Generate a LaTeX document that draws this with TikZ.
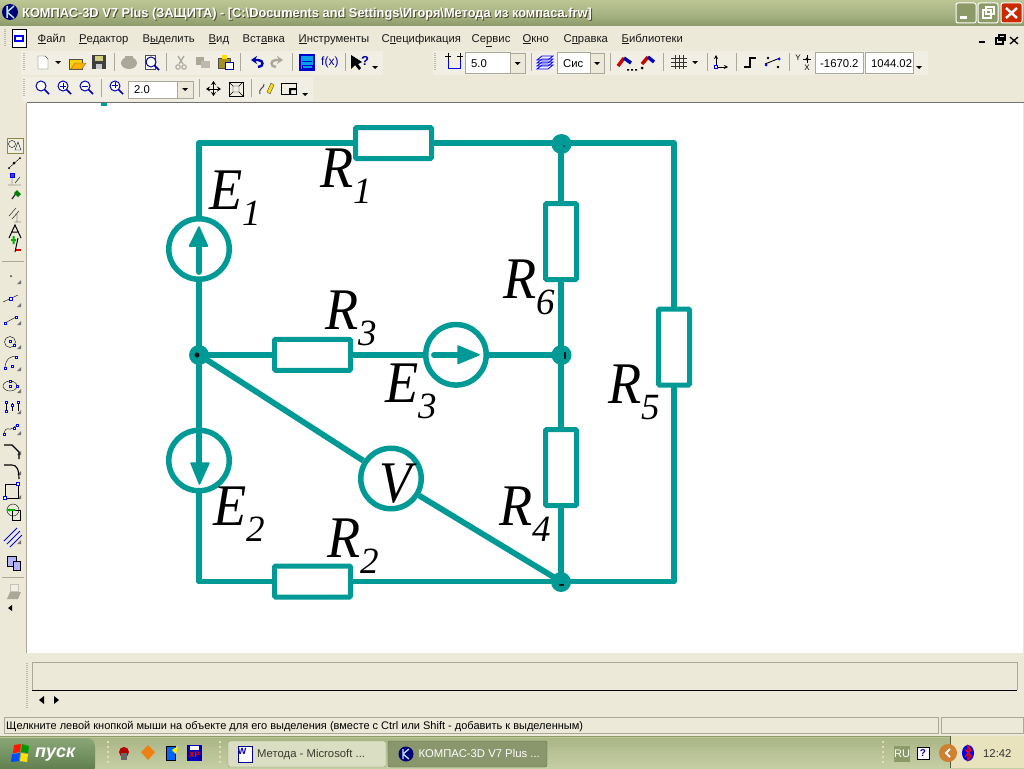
\documentclass[tikz,border=0pt]{standalone}
\usepackage{fontspec}
\setmainfont{Liberation Sans}
\newfontfamily\circfont{Liberation Serif}
\usetikzlibrary{arrows.meta}
\definecolor{teal1}{HTML}{009A96}
\definecolor{uibg}{HTML}{ECE9D8}
\definecolor{band}{HTML}{F1EFE4}
\definecolor{sepc}{HTML}{ACA899}
\definecolor{txt}{HTML}{1A1A1A}
\definecolor{ttop}{HTML}{BCC594}
\definecolor{tmid}{HTML}{A9B585}
\definecolor{tbot}{HTML}{8C9A68}
\definecolor{traybg}{HTML}{E9E3BD}
\definecolor{stop}{HTML}{8AA678}
\definecolor{smid}{HTML}{6F8F5C}
\definecolor{sbot}{HTML}{587846}
\newcommand\uu[1]{\underline{#1}}
\newcommand\circlabel[5]{\node[circlbl] (#1) at (#2,#3) {\makebox[33pt][l]{\scalebox{.92}[1]{#4}}\raisebox{-16pt}{\fontsize{37}{37}\selectfont #5}};}
\newcommand\vsepx[2]{\draw[sepc,line width=1pt] (#1,#2-9) -- (#1,#2+9);}
\newcommand\gripx[2]{\draw[sepc!80,line width=1.5pt,dash pattern=on 1pt off 1pt] (#1,#2-9) -- (#1,#2+9);}
\newcommand\dnarrow[2]{\fill[black] (#1-3,#2-1) -- (#1+3,#2-1) -- (#1,#2+2) -- cycle;}
\newcommand\magicon[3]{\begin{scope}[shift={(#1,#2)}]
 \draw[#3,line width=1.6pt] (2,2) -- (7,7);
 \draw[#3,line width=1pt,fill=white] (-1,-1) circle (5);
 \end{scope}}
\tikzset{
 x=1pt,y=-1pt,
 wire/.style={teal1,line width=5.8pt,line join=round,line cap=round},
 resistor/.style={draw=teal1,line width=5pt,rounded corners=1.2pt,fill=white,rectangle,inner sep=0pt},
 hres/.style={resistor,minimum width=76pt,minimum height=31pt},
 vres/.style={resistor,minimum width=31pt,minimum height=76pt},
 source/.style={draw=teal1,line width=5.5pt,circle,inner sep=0pt,minimum size=60.5pt},
 junction/.style={circle,fill=teal1,inner sep=0pt,minimum size=20pt},
 core/.style={fill=black!85!teal1,inner sep=0pt},
 circlbl/.style={anchor=base west,inner sep=0pt,font={\circfont\itshape\fontsize{59}{59}\selectfont},text=black},
 menu/.style={anchor=base west,inner sep=0pt,text=txt,font=\fontsize{11.3}{12}\selectfont},
 small/.style={anchor=west,inner sep=0pt,text=black,font=\fontsize{11.3}{12}\selectfont},
 field/.style={draw=sepc,fill=white,line width=1pt},
 head/.style={fill=teal1,draw=teal1,line width=1.5pt,line join=round},
}
\begin{document}
\begin{tikzpicture}
\useasboundingbox (0,0) rectangle (1024,768);
\fill[uibg] (0,0) rectangle (1024,768);
% title bar
\shade[top color=ttop,bottom color=tbot,middle color=tmid] (0,0) rectangle (1024,26);
\fill[blue!45!black] (10,12) circle (8); \draw[white!70!cyan,line width=1.5pt] (7,6) -- (7,18) (7,12) -- (14,6) (7,12) -- (14,18);
\node[anchor=west,inner sep=0pt,text=black!60!olive] (titleshadow) at (23,15) {\scalebox{.986}[1]{\bfseries\fontsize{13}{14}\selectfont КОМПАС-3D V7 Plus (ЗАЩИТА) - [C:\textbackslash Documents and Settings\textbackslash Игоря\textbackslash Метода из компаса.frw]}};
\node[anchor=west,inner sep=0pt,text=white] (title) at (22,14) {\scalebox{.986}[1]{\bfseries\fontsize{13}{14}\selectfont КОМПАС-3D V7 Plus (ЗАЩИТА) - [C:\textbackslash Documents and Settings\textbackslash Игоря\textbackslash Метода из компаса.frw]}};
% window buttons
\foreach \a/\c in {956/tbot,978/tbot}{
 \fill[\c,draw=white,line width=1pt,rounded corners=2pt] (\a,3) rectangle +(20,20);}
\fill[red!60!orange!80!black,draw=white,line width=1pt,rounded corners=2pt] (1001,3) rectangle +(21,20);
\fill[white] (960,16) rectangle (967,19);
\draw[white,line width=1.3pt] (983,10) rectangle (991,18); \draw[white,line width=1.3pt] (986,7) rectangle (994,14);
\draw[white,line width=2.4pt] (1006,8) -- (1017,18) (1017,8) -- (1006,18);
% menu
\gripx{5}{38}
\fill[white,draw=black] (12,29) rectangle (26,47); \draw[blue,line width=1.4pt] (15,36) rectangle (23,41);
\node[menu] (m1) at (37.5,42) {\uu{Ф}айл};
\node[menu] (m2) at (79,42) {\uu{Р}едактор};
\node[menu] (m3) at (142.5,42) {В\uu{ы}делить};
\node[menu] (m4) at (208.5,42) {\uu{В}ид};
\node[menu] (m5) at (242.5,42) {Вст\uu{а}вка};
\node[menu] (m6) at (298.5,42) {\uu{И}нструменты};
\node[menu] (m7) at (381.5,42) {С\uu{п}ецификация};
\node[menu] (m8) at (471.5,42) {Се\uu{р}вис};
\node[menu] (m9) at (522.5,42) {\uu{О}кно};
\node[menu] (m10) at (563.5,42) {С\uu{п}равка};
\node[menu] (m11) at (621.5,42) {\uu{Б}иблиотеки};
\fill[black] (979,41) rectangle (985,43);
\draw[black,line width=1.2pt] (996,38) rectangle (1003,44); \draw[black,line width=1.2pt] (999,35) rectangle (1005,40);
\draw[black,line width=1.3pt] (1010,37) -- (1018,44) (1018,37) -- (1010,44);
% toolbar bands
\fill[band] (21,51) rectangle (383,75);
\fill[band] (433,51) rectangle (928,75);
\fill[band] (22,77) rectangle (313,101);
\gripx{24}{62} \gripx{435}{62} \gripx{24}{88}
% row 2 left
\fill[white,draw=black!70] (38,56) -- (45,56) -- (48,59) -- (48,69) -- (38,69) -- cycle;
\dnarrow{58}{62}
\fill[yellow!70!orange,draw=black!70] (69,59) rectangle (82,69); \fill[orange!60!yellow,draw=black!60] (71,69) -- (75,63) -- (86,63) -- (82,69) -- cycle;
\fill[black!75] (92,55) rectangle (106,69); \fill[olive!40!white] (95,56) rectangle (103,61); \fill[white!80!black] (96,64) rectangle (102,69);
\vsepx{114}{62}
\fill[sepc] (129,63) ellipse (8 and 6); \fill[sepc] (125,56) rectangle (133,60);
\fill[white,draw=black!70] (145,55) rectangle (155,69); \magicon{152}{63}{blue!60!black}
\vsepx{166}{62}
\draw[sepc,line width=1.3pt] (178,56) -- (183,64) (184,56) -- (179,64); \draw[sepc,line width=1.1pt] (178,67) circle (2.2) (184,67) circle (2.2);
\fill[sepc] (196,57) rectangle (204,65); \fill[sepc!80] (201,61) rectangle (210,68);
\fill[olive!60!brown,draw=black!70] (218,58) rectangle (230,68); \fill[white,draw=blue!60!black] (225,62) rectangle (233,69); \fill[yellow!80!orange] (222,55) rectangle (227,59);
\vsepx{240}{62}
\draw[blue!70!black,line width=2.4pt,{Stealth[length=6pt,width=8pt]}-] (251,60) -- (258,60) .. controls (264,60) and (264,67) .. (258,67);
\draw[sepc,line width=2.4pt,{Stealth[length=6pt,width=8pt]}-] (283,60) -- (276,60) .. controls (270,60) and (270,67) .. (276,67);
\vsepx{292}{62}
\fill[cyan!90!blue,draw=blue!80!black,line width=1.3pt] (300,55) rectangle (314,70); \draw[blue!80!black] (302,61) -- (312,61) (302,65) rectangle (312,68);
\node[small,text=blue!60!black,font=\fontsize{12}{12}\selectfont] (fx) at (321,62) {f(x)};
\vsepx{345}{62}
\fill[black] (351,55) -- (351,69) -- (355,65) -- (359,70) -- (361,68) -- (358,64) -- (362,62) -- cycle;
\node[small,text=blue!70!black,font=\bfseries\fontsize{13}{13}\selectfont] (hlp) at (361,61) {?};
\dnarrow{375}{67}
% row 2 right
\draw[blue,line width=1pt] (448,60) -- (448,68) -- (460,68) -- (460,60); \draw[black] (445,56) -- (451,56) (457,56) -- (463,56) (448,53) -- (448,60) (460,53) -- (460,60);
\draw[field] (465,53) rectangle (510,73); \node[small] (step) at (471,63.5) {5.0};
\fill[uibg,draw=sepc] (510,53) rectangle (525,73); \dnarrow{517.5}{63}
\vsepx{531}{62}
\foreach \y in {60,63,66,69}{\draw[blue,line width=.8pt] (537,\y) -- (548,\y) -- (553,\y-4) -- (542,\y-4) -- cycle;}
\draw[field] (557,53) rectangle (590,73); \node[small] (layer) at (563,63.5) {Сис};
\fill[uibg,draw=sepc] (590,53) rectangle (604,73); \dnarrow{597}{63}
\vsepx{610}{62}
\draw[red!80!black,line width=3.4pt] (618,66) -- (624,58); \draw[blue!70!black,line width=3.4pt] (624,58) -- (631,63);
\fill[black] (627,69) rectangle +(2,1.5) (631,69) rectangle +(2,1.5) (635,69) rectangle +(2,1.5);
\draw[red!80!black,line width=3.4pt] (642,64) -- (648,57); \draw[blue!70!black,line width=3.4pt] (648,57) -- (654,62);
\fill[black] (642,68) circle (1.5);
\vsepx{663}{62}
\draw[black!80,line width=.8pt] (671,58) -- (687,58) (671,62) -- (687,62) (671,66) -- (687,66) (675,55) -- (675,69) (679,55) -- (679,69) (683,55) -- (683,69);
\dnarrow{695}{62}
\vsepx{707}{62}
\draw[black,line width=.9pt,-{Stealth[length=4pt,width=4pt]}] (716,67) -- (716,55);
\draw[black,line width=.9pt,-{Stealth[length=4pt,width=4pt]}] (716,67) -- (728,67);
\draw[blue,fill=white] (714.5,65.5) rectangle +(3,3);
\vsepx{736}{62}
\draw[black,line width=1.1pt] (744,67) -- (750,67) -- (750,58) -- (756,58);
\draw[black,line width=.9pt] (765,64) -- (780,58); \fill[blue] (766,65) circle (1.5) (779,59) circle (1.5);
\fill[black] (768,58) circle (1.4) (778,67) circle (1.4);
\vsepx{789}{62}
\node[anchor=center,inner sep=0pt,font=\fontsize{8}{8}\selectfont] (yy) at (798,58) {Y};
\node[anchor=center,inner sep=0pt,font=\fontsize{8}{8}\selectfont] (xx) at (807,68) {X};
\fill[black] (807,59) circle (1.6); \draw[black] (803,59) -- (811,59) (807,55) -- (807,63);
\draw[field] (815,53) rectangle (863,73); \node[small] (cx) at (820,63.5) {-1670.2};
\draw[field] (865,53) rectangle (913,73);
\begin{scope} \clip (866,54) rectangle (912,72); \node[small] (cy) at (871,63.5) {1044.02}; \end{scope}
\dnarrow{919}{67}
% row 3
\magicon{42}{87}{blue!70!black}
\magicon{64}{87}{blue!70!black} \draw[blue!70!black] (60,86) -- (66,86) (63,83) -- (63,89);
\magicon{86}{87}{blue!70!black} \draw[blue!70!black] (82,86) -- (88,86);
\vsepx{101}{88}
\magicon{116}{87}{blue!70!black} \draw[blue!70!black] (112,85) -- (118,85) (115,82) -- (115,88);
\draw[field] (128,81) rectangle (177,98); \node[small] (zoomv) at (134,89.5) {2.0};
\fill[uibg,draw=sepc] (177,81) rectangle (193,98); \dnarrow{185}{89}
\vsepx{199}{88}
\draw[black,line width=1pt,{Stealth[length=4pt,width=5pt]}-{Stealth[length=4pt,width=5pt]}] (206,89) -- (221,89);
\draw[black,line width=1pt,{Stealth[length=4pt,width=5pt]}-{Stealth[length=4pt,width=5pt]}] (213.5,81) -- (213.5,96);
\draw[black,line width=1pt] (229,82) rectangle (243,96); \draw[black] (233,86) rectangle (239,92) (229,82) -- (233,86) (243,82) -- (239,86) (229,96) -- (233,92) (243,96) -- (239,92);
\vsepx{251}{88}
\draw[black!70,line width=1pt] (260,94) .. controls (258,88) and (265,88) .. (264,84);
\fill[yellow!80!orange,draw=black!70] (267,92) -- (271,83) -- (274,85) -- (270,94) -- cycle;
\draw[black,line width=1pt] (281,83) rectangle (296,94); \fill[black] (289,88) rectangle (296,90) (289,88) rectangle (291,94);
\dnarrow{305}{94}
% left toolbar
\draw[sepc,line width=1.2pt] (27,103) -- (27,653);
\fill[band,draw=olive!60!gray,line width=1pt] (7,138) rectangle (23,153);
\draw[black] (12,144) circle (3.5); \draw[black] (15,150) -- (18,142) -- (21,150) -- cycle;
\draw[black] (9,168) -- (20,158); \fill[black] (14,163) circle (1.5) (9,168) circle (1) (20,158) circle (1);
\fill[blue!50!gray,draw=blue] (10,173) rectangle (14,177); \draw[black] (12,177) -- (12,184) (8,185) -- (21,185) (15,183) -- (20,177);
\draw[black!80,line width=1.3pt] (12,199) -- (17,192); \fill[green!50!black] (17,190) -- (21,194) -- (18,197) -- (14,193) -- cycle;
\draw[black] (9,216) -- (16,208) (12,219) -- (19,211) (14,222) -- (21,222) (17,214) -- (17,222);
\draw[black,line width=1pt] (9,238) -- (15,225) -- (21,238) (11,232) -- (19,232);
\fill[green!70!black] (11,241) rectangle +(5,-2) (12.5,244) rectangle +(2,-8);
\draw[black,line width=1pt] (15,252) -- (18,238); \fill[red!85!black] (16,249) rectangle (21,251);
\draw[sepc] (2,261) -- (24,261);
\foreach \y in {277,300,318,342,364,386,407,428,448,468,492,537}{
 \fill[black!55] (21,\y+7) -- (21,\y+3) -- (17,\y+7) -- cycle;}
\fill[black!80] (11,276) circle (1);
\draw[black] (3,302) -- (18,295); \draw[blue,fill=white] (9.5,297.5) rectangle +(2.4,2.4);
\draw[black] (5,323) -- (16,317); \draw[blue,fill=white] (4,322) rectangle +(2.4,2.4) (15,316) rectangle +(2.4,2.4);
\draw[black] (10,342) circle (5.5); \draw[blue,fill=white] (9,340) rectangle +(2.4,2.4) (13,344) rectangle +(2.4,2.4);
\draw[black] (5,368) .. controls (5,358) and (13,355) .. (16,357); \draw[blue,fill=white] (4,367) rectangle +(2.4,2.4) (11,365) rectangle +(2.4,2.4) (15,356) rectangle +(2.4,2.4);
\draw[black] (10,386) ellipse (7 and 5); \draw[blue,fill=white] (9,385) rectangle +(2.4,2.4) (9,380) rectangle +(2.4,2.4) (16,385) rectangle +(2.4,2.4);
\draw[black] (6,411) -- (6,401) (12,403) -- (12,411) (18,401) -- (18,411);
\draw[blue,fill=white] (5,410) rectangle +(2.4,2.4) (5,401) rectangle +(2.4,2.4) (17,401) rectangle +(2.4,2.4) (11,404) rectangle +(2.4,2.4);
\draw[black] (4,434) .. controls (6,424) and (9,432) .. (13,428) .. controls (15,426) and (16,426) .. (17,425);
\draw[blue,fill=white] (3,433) rectangle +(2.4,2.4) (13,427) rectangle +(2.4,2.4) (16,424) rectangle +(2.4,2.4);
\draw[black,line width=1.1pt] (4,445) -- (12,445) -- (19,452) -- (19,459);
\draw[black,line width=1.1pt] (4,465) -- (12,465) .. controls (17,465) and (19,470) .. (19,479);
\draw[black,line width=1pt] (5,484) rectangle (18,498); \draw[blue,fill=white] (3.5,496.5) rectangle +(2.6,2.6) (16.5,482.5) rectangle +(2.6,2.6);
\draw[black] (13,510) circle (6); \draw[black] (12,510) rectangle (20,520); \draw[green!70!black,line width=1.5pt,-{Stealth[length=4pt]}] (15,510) -- (6,510);
\draw[blue,line width=.9pt] (4,541) -- (17,528) (7,544) -- (20,531) (10,547) -- (22,535);
\fill[blue!30!white,draw=black] (7,556) rectangle (16,566); \fill[blue!30!white,draw=black] (13,561) rectangle (20,570);
\draw[sepc] (2,577) -- (24,577);
\draw[sepc!70,fill=band] (10,584) rectangle (18,591); \fill[sepc] (7,599) -- (10,592) -- (21,592) -- (18,599) -- cycle;
\fill[black] (8,608) -- (12,605) -- (12,611) -- cycle;
% canvas
\fill[white] (27,103) rectangle (1023,653);
\draw[black!55,line width=1pt] (27,102.5) -- (1024,102.5);
\fill[teal1] (101,103) rectangle (107,106);
% command panel
\draw[sepc,line width=1pt] (32,690) -- (32,662) -- (1017,662) -- (1017,690);
\draw[black,line width=1pt] (32,690.5) -- (1017,690.5);
\draw[sepc!80,line width=1.5pt,dash pattern=on 1pt off 1pt] (27,663) -- (27,708);
\fill[black] (39,700) -- (44,696) -- (44,704) -- cycle;
\fill[black] (59,700) -- (54,696) -- (54,704) -- cycle;
% status bar
\draw[sepc,line width=1pt] (4,717) rectangle (938,733);
\draw[sepc,line width=1pt] (941,717) rectangle (1023,733);
\node[menu,text=black,font=\fontsize{11}{12}\selectfont] (status) at (6,729.5) {Щелкните левой кнопкой мыши на объекте для его выделения (вместе с Ctrl или Shift - добавить к выделенным)};
% task bar
\shade[top color=tmid,bottom color=ttop!85!white] (0,736) rectangle (1024,768);
\draw[ttop,line width=1pt] (0,737.5) -- (1024,737.5);
\draw[tbot,line width=1pt] (0,736) -- (1024,736);
\begin{scope}
\clip (0,737) rectangle (100,768);
\shade[top color=stop,middle color=smid,bottom color=sbot,rounded corners=8pt] (-10,738) rectangle (95,775);
\end{scope}
\fill[red!80!orange] (14,745) -- (21,744) -- (20,752) -- (13,753) -- cycle;
\fill[green!60!black] (22,744) -- (29,746) -- (28,753) -- (21,752) -- cycle;
\fill[blue!70!cyan] (12,754) -- (20,753) -- (19,761) -- (11,762) -- cycle;
\fill[yellow!85!orange] (21,753) -- (28,754) -- (27,762) -- (20,761) -- cycle;
\node[anchor=base west,inner sep=0pt,text=white,font=\bfseries\itshape\fontsize{18}{18}\selectfont] (start) at (35,757.5) {пуск};
\foreach \x in {108,220,883}{\draw[white!75!olive,line width=2pt,dash pattern=on 2pt off 3pt] (\x,741) -- (\x,764);}
\fill[red!70!black] (124,752) circle (5); \fill[black!60] (121,753) rectangle (127,760);
\fill[orange!70!brown] (148,745) -- (155,752) -- (148,760) -- (141,752) -- cycle;
\fill[blue!60!cyan,draw=black] (166,746) rectangle (175,760); \fill[yellow] (172,750) -- (178,746) -- (176,754) -- cycle;
\fill[blue!70!black] (187,745) rectangle (202,761); \fill[white] (190,746) rectangle (199,750); \node[anchor=center,inner sep=0pt,text=red,font=\bfseries\fontsize{8}{8}\selectfont] (xp) at (194.5,755) {XP};
\fill[ttop!55!white,draw=tbot,rounded corners=2pt] (228,741) rectangle (386,767);
\fill[tbot!85!gray,draw=tbot!70!black,rounded corners=2pt] (388,741) rectangle (547,767);
\fill[white,draw=blue!60!black] (238,746) rectangle (252,762); \node[anchor=center,inner sep=0pt,text=blue!70!black,font=\bfseries\fontsize{9}{9}\selectfont] (wicon) at (242,751) {W};
\node[menu,text=black!75!olive] (tb1) at (257,757) {Метода - Microsoft ...};
\fill[blue!45!black] (406,754) circle (7.5); \draw[white!70!cyan,line width=1.3pt] (403,749) -- (403,759) (403,754) -- (409,749) (403,754) -- (409,759);
\node[menu,text=white] (tb2) at (418.5,757) {КОМПАС-3D V7 Plus ...};
\fill[traybg] (950,736) rectangle (1024,768);
\draw[tbot!60!black,line width=1pt] (950,736) -- (950,768);
\fill[tbot] (894,746) rectangle (910,762);
\node[anchor=center,inner sep=0pt,text=white,font=\fontsize{11}{12}\selectfont] (ru) at (902,754) {RU};
\fill[white,draw=black,line width=1pt] (917,747) rectangle (929,759);
\node[anchor=center,inner sep=0pt,text=blue!70!black,font=\bfseries\fontsize{10}{10}\selectfont] (qm) at (923,753) {?};
\fill[brown!75!orange] (948,753) circle (9);
\draw[white,line width=2pt] (950,749) -- (946,753) -- (950,757);
\fill[blue!90!black] (968,753) ellipse (6 and 8);
\draw[red,line width=1.2pt] (965,749) -- (971,756) -- (968,760) -- (968,746) -- (971,750) -- (965,757);
\node[menu,text=black!80] (clock) at (983,757) {12:42};
% circuit
\coordinate (tl) at (199,143);
\coordinate (tr) at (674,143);
\coordinate (br) at (674,581.5);
\coordinate (bl) at (199,581.5);
\node[junction] (j1) at (561.5,144) {};
\node[junction] (j2) at (199,355) {};
\node[junction] (j3) at (561,582) {};
\node[junction] (j4) at (561.5,355) {};
\coordinate (n1) at (561,143);
\coordinate (n2) at (199,354.8);
\coordinate (n3) at (561,581.5);
\coordinate (n4) at (561,354.8);
\node[hres] (R1) at (393.5,143) {};
\node[hres] (R2) at (312.5,581.5) {};
\node[hres] (R3) at (312.5,354.8) {};
\node[vres] (R4) at (561,467.5) {};
\node[vres] (R5) at (674,347) {};
\node[vres] (R6) at (561,241.5) {};
\node[source] (E1) at (199,249) {};
\node[source] (E2) at (199,460.5) {};
\node[source] (E3) at (456,354.8) {};
\coordinate (e1tail) at (199,272);
\coordinate (e1base) at (199,246);
\coordinate (e2base) at (199,463);
\coordinate (e3tail) at (434,354.8);
\coordinate (e3base) at (458,354.8);
\draw[wire] (E1.north) -- (tl) -- (R1.west) (R1.east) -- (n1) -- (tr) -- (R5.north) (R5.south) -- (br) -- (n3) -- (R2.east) (R2.west) -- (bl) -- (E2.south);
\draw[wire] (n1) -- (R6.north) (R6.south) -- (n4) -- (R4.north) (R4.south) -- (n3);
\draw[wire] (n2) -- (R3.west) (R3.east) -- (E3.west) (E3.east) -- (n4);
\draw[wire] (n2) -- (E1.south);
\draw[wire,line cap=butt] (n2) -- (e2base);
\draw[wire] (e1tail) -- (e1base);
\draw[wire] (e3tail) -- (e3base);
\node[source,fill=white] (V) at (391,478.5) {};
\draw[wire,line cap=butt] (n2) -- (V) (V) -- (n3);
\draw[head] (199,227) -- (189.5,246) -- (207.5,246) -- cycle;
\draw[head] (199.5,484) -- (191,463) -- (209,463) -- cycle;
\draw[head] (479,354.8) -- (458,346) -- (458,363.5) -- cycle;
\node[core,circle,minimum size=5pt] (c2) at (197,355) {};
\node[core,circle,minimum size=1.5pt] (c1) at (564,146) {};
\node[core,rectangle,minimum width=2pt,minimum height=7pt] (c4) at (565,355) {};
\node[core,rectangle,minimum width=5pt,minimum height=2pt] (c3) at (561,585) {};
% labels
\circlabel{lE1}{209}{209}{E}{1}
\circlabel{lE2}{213}{525}{E}{2}
\circlabel{lE3}{385}{402}{E}{3}
\circlabel{lR1}{320}{187}{R}{1}
\circlabel{lR2}{327}{557}{R}{2}
\circlabel{lR3}{325}{329}{R}{3}
\circlabel{lR4}{499}{525}{R}{4}
\circlabel{lR5}{608}{403}{R}{5}
\circlabel{lR6}{503}{298}{R}{6}
\node[circlbl] (lV) at (379,502) {\scalebox{.9}[1]{V}};
\end{tikzpicture}
\end{document}
